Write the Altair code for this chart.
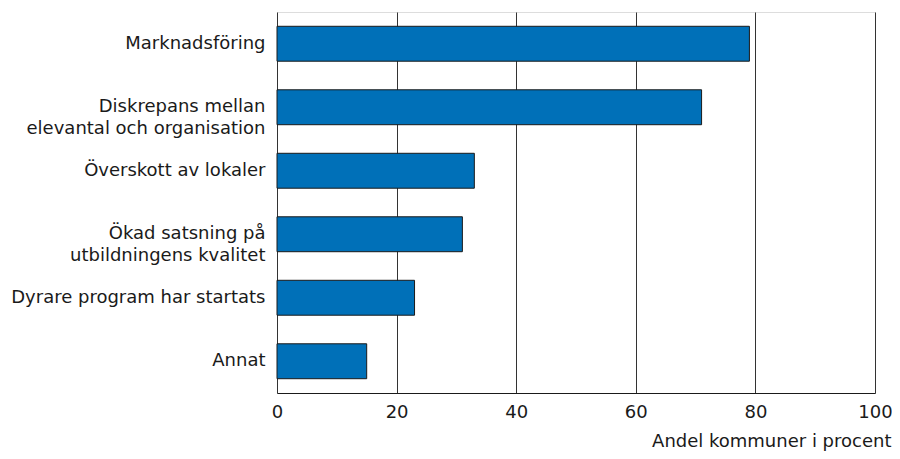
import altair as alt
import pandas as pd

categories = [
    "Marknadsföring",
    "Diskrepans mellan\nelevantal och organisation",
    "Överskott av lokaler",
    "Ökad satsning på\nutbildningens kvalitet",
    "Dyrare program har startats",
    "Annat",
]
values = [79, 71, 33, 31, 23, 15]
x_ticks = [0, 20, 40, 60, 80, 100]

df = pd.DataFrame({"kategori": categories, "andel": values})

FONT = "DejaVu Sans"

chart = (
    alt.Chart(df)
    .mark_bar(color="#0070B8", stroke="#1a1a1a", strokeWidth=1)
    .encode(
        x=alt.X(
            "andel:Q",
            scale=alt.Scale(domain=[0, 100], nice=False),
            axis=alt.Axis(
                values=x_ticks,
                title="Andel kommuner i procent",
                titleAnchor="end",
                titleAlign="right",
                titleX=614,
                titleY=53,
                titleBaseline="alphabetic",
                titleFont=FONT,
                titleFontSize=18,
                titleFontWeight="normal",
                titleColor="#1a1a1a",
                labelFont=FONT,
                labelFontSize=18,
                labelColor="#1a1a1a",
                labelPadding=10,
                ticks=False,
                grid=True,
                gridColor="#333333",
                gridWidth=1,
                gridOpacity=1,
                domain=True,
                domainColor="#1a1a1a",
                domainWidth=1,
                labelFlush=False,
            ),
        ),
        y=alt.Y(
            "kategori:N",
            sort=categories,
            scale=alt.Scale(paddingInner=0.45, paddingOuter=0.225),
            axis=alt.Axis(
                title=None,
                labelExpr="split(datum.label, '\\n')",
                labelFont=FONT,
                labelFontSize=18,
                labelColor="#1a1a1a",
                labelLineHeight=22,
                labelPadding=12,
                labelLimit=400,
                ticks=False,
                domain=False,
                grid=False,
            ),
        ),
    )
    .properties(
        width=598,
        height=381,
        autosize=alt.AutoSizeParams(type="none"),
        padding={"left": 269, "top": 4, "right": 17, "bottom": 58},
    )
    .configure_view(stroke=None)
    .configure(background="white")
)

chart.save("out.html", embed_options={"renderer": "svg", "actions": False})
